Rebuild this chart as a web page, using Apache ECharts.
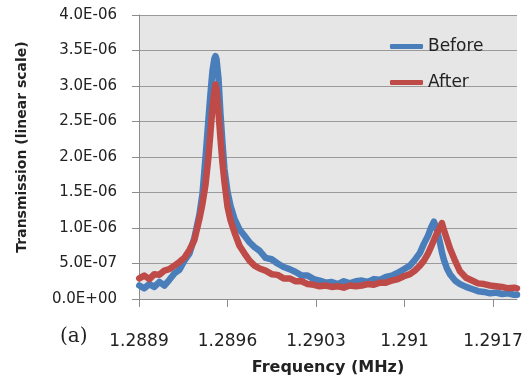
<!DOCTYPE html>
<html>
<head>
<meta charset="utf-8">
<script src="https://cdn.jsdelivr.net/npm/echarts@6/dist/echarts.min.js"></script>
<style>html,body{margin:0;padding:0;background:#fff;}#c{width:530px;height:381px;}</style>
</head>
<body>
<div id="c"></div>
<script>
// Frequency (MHz), shared by both series
const freq = [1.288902,1.288942,1.288982,1.289021,1.289061,1.289101,1.289140,1.289180,1.289219,1.289259,
1.289299,1.289338,1.289378,1.289402,1.289426,1.289449,1.289465,1.289481,1.289497,1.289505,
1.289513,1.289529,1.289544,1.289560,1.289576,1.289600,1.289624,1.289655,1.289695,1.289735,
1.289774,1.289814,1.289854,1.289901,1.289949,1.289996,1.290044,1.290091,1.290139,1.290187,
1.290234,1.290282,1.290329,1.290377,1.290424,1.290472,1.290520,1.290567,1.290615,1.290662,
1.290710,1.290757,1.290805,1.290853,1.290900,1.290948,1.290995,1.291043,1.291082,1.291122,
1.291154,1.291186,1.291209,1.291233,1.291257,1.291281,1.291296,1.291312,1.291336,1.291360,
1.291400,1.291439,1.291487,1.291534,1.291582,1.291630,1.291677,1.291725,1.291772,1.291820,
1.291867,1.291890];
// Transmission, in units of 1E-06
const beforeE6 = [0.19,0.15,0.21,0.17,0.24,0.19,0.27,0.36,0.41,0.54,
0.64,0.86,1.19,1.48,1.99,2.52,2.88,3.21,3.39,3.42,
3.38,3.10,2.62,2.20,1.83,1.51,1.31,1.13,0.98,0.89,
0.80,0.73,0.68,0.58,0.56,0.50,0.45,0.42,0.38,0.33,
0.33,0.28,0.26,0.23,0.24,0.21,0.25,0.22,0.25,0.26,
0.24,0.28,0.27,0.31,0.33,0.37,0.42,0.47,0.55,0.65,
0.78,0.89,1.00,1.09,0.97,0.79,0.66,0.55,0.43,0.35,
0.26,0.21,0.17,0.14,0.11,0.10,0.08,0.09,0.07,0.08,
0.06,0.06];
const afterE6 = [0.29,0.33,0.28,0.35,0.34,0.40,0.42,0.47,0.52,0.58,
0.69,0.83,1.13,1.34,1.61,1.99,2.34,2.69,2.93,3.02,
2.96,2.62,2.27,1.92,1.65,1.30,1.11,0.94,0.75,0.64,
0.54,0.47,0.43,0.40,0.35,0.34,0.29,0.29,0.25,0.25,
0.21,0.20,0.18,0.19,0.17,0.18,0.16,0.19,0.18,0.19,
0.21,0.20,0.23,0.23,0.26,0.28,0.32,0.35,0.40,0.47,
0.54,0.64,0.73,0.83,0.93,1.01,1.07,0.97,0.84,0.71,
0.54,0.39,0.30,0.26,0.22,0.21,0.19,0.18,0.17,0.15,
0.16,0.15];
const seriesNames = ['Before','After'];
const xTicks = ['1.2889','1.2896','1.2903','1.291','1.2917'];

function sci(v){
  const s = v.toExponential(1).split('e');
  const sign = s[1][0];
  const d = s[1].slice(1).padStart(2,'0');
  return s[0] + 'E' + sign + d;
}
const pairs = arr => freq.map((f,i)=>[f, arr[i]*1e-6]);

const chart = echarts.init(document.getElementById('c'), null, {renderer:'canvas'});
chart.setOption({
  animation:false,
  backgroundColor:'#fff',
  grid:{left:139, right:13, top:15, bottom:77, show:true, backgroundColor:'#E6E6E6', borderWidth:0, containLabel:false},
  legend:{
    orient:'vertical', left:385, top:33, itemWidth:33, itemHeight:5, itemGap:19,
    icon:'roundRect',
    data:seriesNames,
    textStyle:{fontFamily:'DejaVu Sans', fontSize:17, color:'#222'}
  },
  xAxis:{
    type:'value', min:1.2889, max:1.29189, interval:0.0007,
    axisLine:{show:true, lineStyle:{color:'#8c8c8c', width:1}},
    axisTick:{show:true, length:8, lineStyle:{color:'#8c8c8c'}},
    splitLine:{show:false},
    axisLabel:{showMaxLabel:false, margin:34, fontFamily:'DejaVu Sans', fontSize:17, color:'#222',
      formatter:v=>{ const s = parseFloat(v.toFixed(4)).toString(); return xTicks.includes(s)?s:''; }},
    name:'Frequency (MHz)', nameLocation:'middle', nameGap:61,
    nameTextStyle:{fontFamily:'DejaVu Sans', fontWeight:'bold', fontSize:16, color:'#222'}
  },
  yAxis:{
    type:'value', min:0, max:4e-6, interval:0.5e-6,
    axisLine:{show:true, lineStyle:{color:'#8c8c8c', width:1}},
    axisTick:{show:true, length:7, lineStyle:{color:'#8c8c8c'}},
    splitLine:{show:true, lineStyle:{color:'#9a9a9a', width:1}},
    axisLabel:{margin:22, fontFamily:'DejaVu Sans', fontSize:15, color:'#222', formatter:sci},
    name:'Transmission (linear scale)', nameLocation:'middle', nameGap:110,
    nameTextStyle:{fontFamily:'DejaVu Sans', fontWeight:'bold', fontSize:14, color:'#222', padding:[0,0,0,20]}
  },
  series:[
    {name:seriesNames[0], type:'line', data:pairs(beforeE6), showSymbol:false, symbol:'none',
     color:'#4A7EBB', lineStyle:{width:6.5, color:'#4A7EBB', cap:'round', join:'round'}},
    {name:seriesNames[1], type:'line', data:pairs(afterE6), showSymbol:false, symbol:'none',
     color:'#BE4B48', lineStyle:{width:6.5, color:'#BE4B48', cap:'round', join:'round'}}
  ],
  graphic:[{type:'text', left:60, top:327, style:{text:'(a)', fontFamily:'DejaVu Serif', fontSize:20, fill:'#222'}}]
});
</script>
</body>
</html>
